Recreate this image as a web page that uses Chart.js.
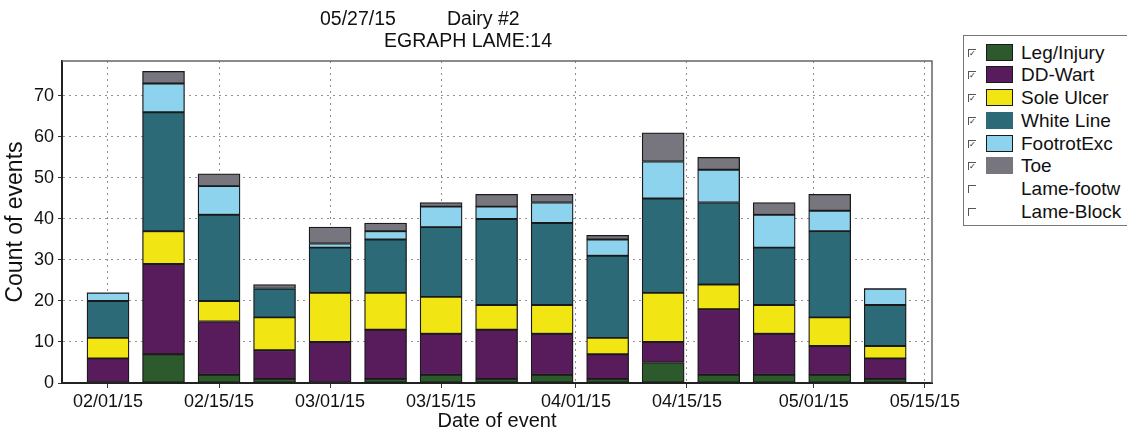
<!DOCTYPE html>
<html>
<head>
<meta charset="utf-8">
<script src="https://cdn.jsdelivr.net/npm/chart.js@4.4.1/dist/chart.umd.min.js"></script>
<style>
  body { margin: 0; background: #fff; font-family: "Liberation Sans", Arial, sans-serif; }
  #wrap { position: relative; width: 1127px; height: 433px; overflow: hidden; }
  #chart { position: absolute; left: 0; top: 0; }
  .t { position: absolute; font-size: 19.5px; line-height: 20px; color: #111; white-space: nowrap; }
  #legend { position: absolute; left: 963px; top: 35px; width: 180px; height: 189px; border: 1px solid #777; background: #fff; }
  .row { position: absolute; left: 0; height: 22px; width: 180px; }
  .chk { position: absolute; left: 4px; top: 7px; width: 7px; height: 7px; border-left: 1px solid #555; border-top: 1px solid #555; font-size: 8px; line-height: 7px; color: #222; text-align: center; }
  .sw { position: absolute; left: 22px; top: 2px; width: 27px; height: 17px; box-sizing: border-box; }
  .lbl { position: absolute; left: 57px; top: 1px; font-size: 19px; line-height: 20px; color: #111; white-space: nowrap; }
</style>
</head>
<body>
<div id="wrap">
  <canvas id="chart" width="1127" height="433"></canvas>
  <div class="t" style="left:320px; top:8px;">05/27/15</div>
  <div class="t" style="left:447px; top:8px;">Dairy #2</div>
  <div class="t" style="left:384px; top:30px;">EGRAPH LAME:14</div>
  <div id="legend"></div>
</div>
<script>
// weekly event counts, week starting dates (mm/dd/yy)
const WEEKS = ['02/01/15', '02/08/15', '02/15/15', '02/22/15', '03/01/15', '03/08/15', '03/15/15',
    '03/22/15', '03/29/15', '04/05/15', '04/12/15', '04/19/15', '04/26/15', '05/03/15', '05/10/15'];

const LEG_INJURY  = [0, 7, 2, 1, 0, 1, 2, 1, 2, 1, 5, 2, 2, 2, 1];
const DD_WART     = [6, 22, 13, 7, 10, 12, 10, 12, 10, 6, 5, 16, 10, 7, 5];
const SOLE_ULCER  = [5, 8, 5, 8, 12, 9, 9, 6, 7, 4, 12, 6, 7, 7, 3];
const WHITE_LINE  = [9, 29, 21, 7, 11, 13, 17, 21, 20, 20, 23, 20, 14, 21, 10];
const FOOTROT_EXC = [2, 7, 7, 0, 1, 2, 5, 3, 5, 4, 9, 8, 8, 5, 4];
const TOE         = [0, 3, 3, 1, 4, 2, 1, 3, 2, 1, 7, 3, 3, 4, 0];

const TICK_DATES = ['02/01/15', '02/15/15', '03/01/15', '03/15/15', '04/01/15', '04/15/15', '05/01/15', '05/15/15'];
const Y_TICKS = [0, 10, 20, 30, 40, 50, 60, 70];

const SERIES = [
    { name: 'Leg/Injury', data: LEG_INJURY, color: '#2c5a2c', edge: '#1a1a1a', on: true },
    { name: 'DD-Wart', data: DD_WART, color: '#581c5c', edge: '#1a1a1a', on: true },
    { name: 'Sole Ulcer', data: SOLE_ULCER, color: '#f1e614', edge: '#1a1a1a', on: true },
    { name: 'White Line', data: WHITE_LINE, color: '#2c6a78', edge: '#2c6a78', on: true },
    { name: 'FootrotExc', data: FOOTROT_EXC, color: '#8ed3ee', edge: '#1a1a1a', on: true },
    { name: 'Toe', data: TOE, color: '#77767e', edge: '#77767e', on: true },
    { name: 'Lame-footw', data: null, color: '#fff', edge: '#fff', on: false },
    { name: 'Lame-Block', data: null, color: '#fff', edge: '#fff', on: false }
];

// mm/dd/yy -> day number
function day(s) {
    const [m, d, y] = s.split('/').map(Number);
    return Date.UTC(2000 + y, m - 1, d) / 864e5;
}

const X_MIN = day('01/26/15') + 0.2;
const X_MAX = day('05/15/15') + 0.9;

// legend (html, with the old-style check boxes)
const legend = document.getElementById('legend');
SERIES.forEach((s, i) => {
    const row = document.createElement('div');
    row.className = 'row';
    row.style.top = (5.7 + i * 22.7) + 'px';
    row.innerHTML = `<span class="chk">${s.on ? '&#10003;' : ''}</span>` +
        (s.data ? `<span class="sw" style="background:${s.color};border:1px solid ${s.edge}"></span>` : '') +
        `<span class="lbl">${s.name}</span>`;
    legend.appendChild(row);
});

const framePlugin = {
    id: 'frame',
    afterDraw(chart) {
        const { ctx, chartArea: a } = chart;
        ctx.save();
        ctx.strokeStyle = '#666';
        ctx.lineWidth = 1.5;
        ctx.beginPath();
        ctx.moveTo(a.left, a.top);
        ctx.lineTo(a.right, a.top);
        ctx.lineTo(a.right, a.bottom);
        ctx.stroke();
        ctx.restore();
    }
};

const FONT = { family: '"Liberation Sans", Arial, sans-serif', size: 18 };

new Chart(document.getElementById('chart'), {
    type: 'bar',
    data: {
        datasets: SERIES.filter(s => s.data).map(s => ({
            label: s.name,
            data: s.data.map((v, i) => ({ x: day(WEEKS[i]), y: v })),
            backgroundColor: s.color,
            borderColor: '#1a1a1a',
            borderWidth: c => (c.raw && c.raw.y ? 1.3 : 0),
            borderSkipped: false,
            barThickness: 42
        }))
    },
    options: {
        responsive: false,
        animation: false,
        layout: { padding: { left: 0, top: 61, right: 195, bottom: 0 } },
        plugins: {
            legend: { display: false },
            title: { display: false },
            tooltip: { enabled: false }
        },
        scales: {
            x: {
                type: 'linear',
                stacked: true,
                offset: false,
                min: X_MIN,
                max: X_MAX,
                afterBuildTicks: sc => { sc.ticks = TICK_DATES.map(d => ({ value: day(d) })); },
                afterFit: sc => { sc.height = 50; },
                ticks: {
                    autoSkip: false,
                    maxRotation: 0,
                    padding: 3,
                    color: '#111',
                    font: FONT,
                    callback: (v, i) => TICK_DATES[i]
                },
                grid: {
                    offset: false,
                    color: '#8d8a99',
                    tickColor: '#333',
                    tickLength: 5,
                    tickBorderDash: [],
                    lineWidth: 1
                },
                border: { display: true, color: '#222', width: 2, dash: [2, 4] },
                title: {
                    display: true,
                    text: 'Date of event',
                    color: '#111',
                    font: { family: FONT.family, size: 20 },
                    padding: { top: 0, bottom: 0 }
                }
            },
            y: {
                stacked: true,
                min: 0,
                max: 78.5,
                afterBuildTicks: sc => { sc.ticks = Y_TICKS.map(v => ({ value: v })); },
                afterFit: sc => { sc.width = 62; },
                ticks: { padding: 4, color: '#111', font: FONT },
                grid: {
                    color: '#a48a8e',
                    tickColor: '#333',
                    tickLength: 4,
                    tickBorderDash: [],
                    lineWidth: 1
                },
                border: { display: true, color: '#222', width: 2, dash: [2, 4] },
                title: {
                    display: true,
                    text: 'Count of events',
                    color: '#111',
                    font: { family: FONT.family, size: 23 },
                    padding: { top: 2, bottom: 0 }
                }
            }
        }
    },
    plugins: [framePlugin]
});
</script>
</body>
</html>
